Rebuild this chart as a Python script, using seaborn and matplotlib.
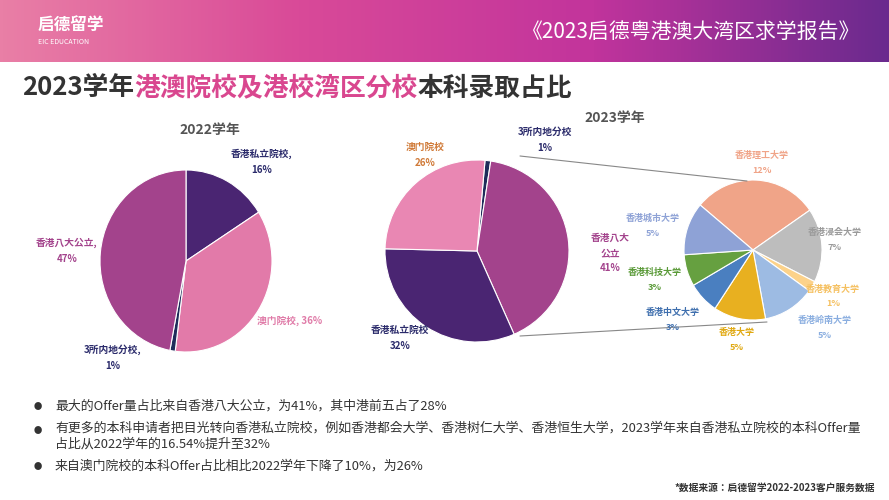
import matplotlib
matplotlib.use("Agg")
import matplotlib.pyplot as plt
import seaborn as sns
import numpy as np
from matplotlib import font_manager

sns.set_theme(style="white")
names = {f.name for f in font_manager.fontManager.ttflist}
cjk = [n for n in ["Noto Sans CJK SC", "Noto Sans CJK JP", "Noto Sans CJK TC", "Noto Sans CJK KR"] if n in names]
plt.rcParams["font.family"] = "sans-serif"
plt.rcParams["font.sans-serif"] = cjk + ["DejaVu Sans"]

W, H = 889, 500
# data
cats_2022 = ["香港私立院校", "澳门院校", "3所内地分校", "香港八大公立"]
vals_2022 = [16, 36, 1, 47]
cats_2023 = ["3所内地分校", "香港八大公立", "香港私立院校", "澳门院校"]
vals_2023 = [1, 41, 32, 26]
sub_cats = ["香港理工大学", "香港浸会大学", "香港教育大学", "香港岭南大学", "香港大学", "香港中文大学", "香港科技大学", "香港城市大学"]
sub_vals = [12, 7, 1, 5, 5, 3, 3, 5]

col_2022 = ["#4a2572", "#e27aa9", "#1e2c5a", "#a3438c"]
col_2023 = ["#1e2c5a", "#a3438c", "#4a2572", "#e987b3"]
sub_cols = ["#f0a488", "#bdbdbd", "#fcd28a", "#9dbbe3", "#e8b020", "#4a7fc0", "#66a040", "#8ea2d6"]
sub_txt = ["#f0a488", "#9a9a9a", "#f5c060", "#8aaee0", "#e0a810", "#3f6fae", "#5a9a38", "#8ea2d6"]

fig = plt.figure(figsize=(W/100, H/100), dpi=100)

def ax_px(x, y, w, h):
    return fig.add_axes([x/W, 1-(y+h)/H, w/W, h/H])

def T(x, y, s, **kw):
    return fig.text(x/W, 1-y/H, s, **kw)

def pie_px(cx, cy, rx, ry, vals, cols, start):
    a = ax_px(cx - rx, cy - ry, 2*rx, 2*ry)
    a.pie(vals, colors=cols, startangle=start, counterclock=False,
          wedgeprops=dict(edgecolor="white", linewidth=0.8))
    a.set_xlim(-1, 1); a.set_ylim(-1, 1)
    a.set_aspect("auto"); a.axis("off")
    return a

# header gradient
hax = ax_px(0, 0, W, 62)
grad = np.linspace(0, 1, 256)
cmap = matplotlib.colors.LinearSegmentedColormap.from_list("h", ["#e97fa6", "#d94a98", "#c2349c", "#6a2a8e"])
hax.imshow(np.vstack([grad, grad]), aspect="auto", cmap=cmap, extent=[0, 1, 0, 1])
hax.axis("off")
T(38, 26, "启德留学", fontsize=12, color="white", fontweight="bold", va="center")
T(38, 42, "EIC EDUCATION", fontsize=5, color="white", va="center")
T(860, 32, "《2023启德粤港澳大湾区求学报告》", fontsize=15, color="white", ha="right", va="center")

# title
x0 = 22
for s, c in [("2023学年", "#333333"), ("港澳院校及港校湾区分校", "#d9478f"), ("本科录取占比", "#333333")]:
    t = T(x0, 88, s, fontsize=18.5, fontweight="bold", color=c, va="center")
    fig.canvas.draw()
    x0 += t.get_window_extent().width

B = dict(fontsize=7, ha="center", va="center", fontweight="bold")
# left pie
pie_px(186, 261, 86, 91, vals_2022, col_2022, 90)
T(210, 130, "2022学年", fontsize=10, fontweight="bold", color="#555555", ha="center", va="center")
T(262, 154, "香港私立院校,", color="#2b2b6b", **B)
T(262, 170, "16%", color="#2b2b6b", **B)
T(290, 321, "澳门院校, 36%", color="#e07ba8", **B)
T(113, 350, "3所内地分校,", color="#2b2b6b", **B)
T(113, 366, "1%", color="#2b2b6b", **B)
T(67, 243, "香港八大公立,", color="#a3438c", **B)
T(67, 259, "47%", color="#a3438c", **B)

# right main pie
pie_px(477, 251, 92, 91, vals_2023, col_2023, 85)
T(615, 118, "2023学年", fontsize=10, fontweight="bold", color="#555555", ha="center", va="center")
T(545, 132, "3所内地分校", color="#2b2b6b", **B)
T(545, 148, "1%", color="#2b2b6b", **B)
T(425, 147, "澳门院校", color="#d07a38", **B)
T(425, 163, "26%", color="#d07a38", **B)
T(610, 238, "香港八大", color="#a3438c", **B)
T(610, 253, "公立", color="#a3438c", **B)
T(610, 268, "41%", color="#a3438c", **B)
T(400, 330, "香港私立院校", color="#2b2b6b", **B)
T(400, 346, "32%", color="#2b2b6b", **B)

# connector lines
fig.add_artist(plt.Line2D([520/W, 747/W], [1-156/H, 1-181/H], color="#888888", lw=0.8))
fig.add_artist(plt.Line2D([520/W, 767/W], [1-336/H, 1-322/H], color="#888888", lw=0.8))

# sub pie
pie_px(753, 250, 69, 70, sub_vals, sub_cols, 140)
pos = [(762, 155), (835, 232), (833, 289), (825, 320), (737, 332), (673, 312), (655, 272), (653, 218)]
for (x, y), c, v, col in zip(pos, sub_cats, sub_vals, sub_txt):
    T(x, y, c, fontsize=6.5, color=col, ha="center", va="center", fontweight="bold")
    T(x, y + 15, f"{v}%", fontsize=6.5, color=col, ha="center", va="center", fontweight="bold")

# bullets
bul = ["最大的Offer量占比来自香港八大公立，为41%，其中港前五占了28%",
       "有更多的本科申请者把目光转向香港私立院校，例如香港都会大学、香港树仁大学、香港恒生大学，2023学年来自香港私立院校的本科Offer量\n占比从2022学年的16.54%提升至32%",
       "来自澳门院校的本科Offer占比相比2022学年下降了10%，为26%"]
ys = [406, 438, 466]
for y, b in zip(ys if False else [406, 430, 466], bul):
    T(34, y, "●", fontsize=6, color="#333333", va="center")
    T(55, y - 8 if "\n" in b else y, b, fontsize=9.3, color="#333333", va="top" if "\n" in b else "center", linespacing=1.3)
T(875, 488, "*数据来源：启德留学2022-2023客户服务数据", fontsize=7, color="#333333", ha="right", va="center", fontweight="bold")

fig.savefig("out.png", dpi=100, facecolor="white")
